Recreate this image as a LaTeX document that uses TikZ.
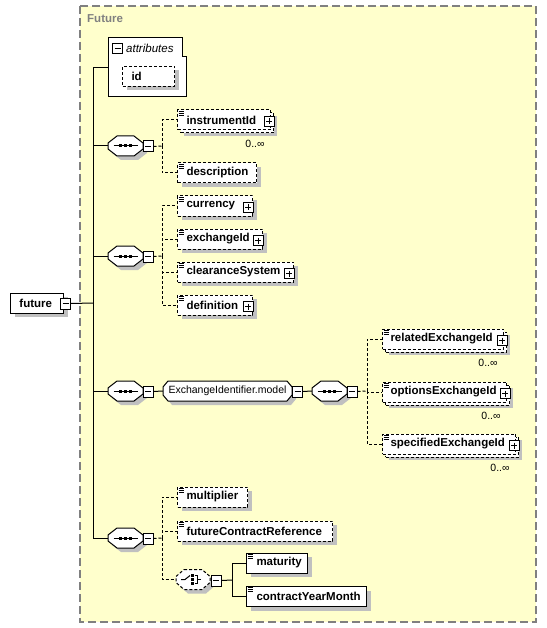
\documentclass[tikz,border=0pt]{standalone}
\usepackage{fontspec}
\setmainfont{Liberation Sans}
\usetikzlibrary{shadows,calc}
\definecolor{bgyellow}{RGB}{255,255,204}
\definecolor{shadowgray}{RGB}{192,192,192}
\definecolor{framegray}{RGB}{128,128,128}
\tikzset{
  dsh/.style={dash pattern=on 3pt off 2pt},
  conn/.style={line width=1pt, draw=black},
  oconn/.style={conn, dsh},
  shad/.style={drop shadow={shadow xshift=4pt,shadow yshift=-4pt,fill=shadowgray,opacity=1}},
  elembase/.style={font=\fontsize{11.5}{13}\selectfont\bfseries, fill=white, draw=black, line width=1pt,
     inner xsep=0pt, inner ysep=0pt, minimum height=20pt, anchor=west, align=left},
  elemopt/.style={elembase, dsh, shad},
  elemreq/.style={elembase, solid, shad},
  elemmulti/.style={elembase, dsh,
     drop shadow={shadow xshift=6pt,shadow yshift=-6pt,fill=shadowgray,opacity=1},
     copy shadow={shadow xshift=3pt,shadow yshift=-3pt,fill=white,draw=black,line width=1pt,dsh}},
  pbox/.style={draw=black, solid, fill=white, line width=1pt, minimum width=10pt, minimum height=10pt, inner sep=0pt,
     path picture={\draw[line width=1pt] ($(path picture bounding box.west)+(2,0)$) -- ($(path picture bounding box.east)+(-2,0)$)
        ($(path picture bounding box.north)+(0,2)$) -- ($(path picture bounding box.south)+(0,-2)$);}},
  mbox/.style={draw=black, solid, fill=white, line width=1pt, minimum width=10pt, minimum height=11pt, inner sep=0pt,
     path picture={\draw[line width=1pt] ($(path picture bounding box.west)+(2,0)$) -- ($(path picture bounding box.east)+(-2,0)$);}},
  compnode/.style={rectangle, minimum width=#1, minimum height=20pt, inner sep=0pt},
  occ/.style={font=\fontsize{10.5}{12}\selectfont, inner sep=0pt},
}
\newcommand\octp[5]{({#1+#4},{#2-10}) -- ({#1+#3-#4},{#2-10}) -- ({#1+#3},{#2-10+#5}) -- ({#1+#3},{#2+10-#5}) -- ({#1+#3-#4},{#2+10}) -- ({#1+#4},{#2+10}) -- (#1,{#2+10-#5}) -- (#1,{#2-10+#5}) -- cycle}
\newcommand\octshape[6]{%
  \fill[shadowgray,shift={(4,4)}] \octp{#2}{#3}{#4}{#5}{#6};
  \draw[conn,fill=white,#1] \octp{#2}{#3}{#4}{#5}{#6};}
\newcommand\elicon[1]{\draw[line width=0.8pt,solid] ($(#1.north west)+(1.5,1.5)$) -- +(5,0) ($(#1.north west)+(1.5,3.5)$) -- +(5,0) ($(#1.north west)+(1.5,5.5)$) -- +(5,0);}
\newcommand\seqsym[1]{\draw[line width=1pt] ($(#1.center)+(-12,0)$) -- ($(#1.center)+(12,0)$);
  \foreach \dd in {-5,0,5}{\fill ($(#1.center)+({\dd-1.5},-1.5)$) rectangle +(3,3);}}
\begin{document}
\begin{tikzpicture}[x=1pt,y=-1pt]
\useasboundingbox (0,0) rectangle (546,628);
% frame
\fill[bgyellow] (80,6) rectangle (536,622);
\draw[framegray,line width=1.2pt,dash pattern=on 8pt off 4pt] (80,6) rectangle (536,622);
\node[anchor=west,inner sep=0pt,text=framegray,font=\fontsize{11.5}{13}\selectfont\bfseries] (title) at (87,19) {Future};

% junctions
\coordinate (t0) at (93,303);
\coordinate (j1) at (162,146);
\coordinate (j2) at (162,256);
\coordinate (j3) at (367,391);
\coordinate (j4) at (162,538);
\coordinate (jc) at (232,580);

% attributes
\node[rectangle,minimum width=78pt,minimum height=59pt,inner sep=0pt] (attr) at (147,67.5) {};
\draw[conn,fill=white] (108,38) -- (182,38) -- (182,57) -- (186,57) -- (186,97) -- (108,97) -- cycle;
\node[mbox,minimum height=10pt] (attrm) at (117.5,49) {};
\node[anchor=west,inner sep=0pt,font=\fontsize{11.5}{13}\selectfont\itshape] (attrlbl) at (126,48) {attributes};
\node[elemopt,text width=52pt] (id) at (122,76.5) {\hspace*{9pt}id};

% future root
\node[elemreq,text width=53pt] (future) at (10,303) {\hspace*{9pt}future};
\node[mbox] (futurem) at ($(future.east)+(1.5,0.5)$) {};

% trunk connectors
\draw[conn] (futurem.east) -- (t0);
\draw[conn] (attr.west) -| (t0);

% sequences
\foreach \nm/\yy in {s1/146,s2/256,s3/391,s4/538}{
  \octshape{}{108}{\yy}{35}{9}{7}
  \node[compnode=35pt] (\nm) at (125.5,\yy) {};
  \seqsym{\nm}
  \node[mbox] (\nm m) at (148,\yy+0.5) {};
  \draw[conn] (\nm.west) -| (t0);
}

% sequence 1 children
\draw[oconn] (s1m.east) -- (j1);
\draw[oconn] (j1) |- (177,120);
\draw[oconn] (j1) |- (177,173);
\node[elemmulti,text width=93pt] (instr) at (177,120) {\hspace*{9pt}instrumentId};
\elicon{instr}
\node[pbox] (instrp) at ($(instr.east)+(-2,1.5)$) {};
\node[occ] (instrocc) at ($(instr.south east)+(-16,13)$) {0..∞};
\node[elemopt,text width=79pt] (descr) at (177,173) {\hspace*{9pt}description};
\elicon{descr}

% sequence 2 children
\draw[oconn] (s2m.east) -- (j2);
\foreach \nm/\yy/\ww/\tt in {curr/206/75/currency,exch/239/85/exchangeId,clear/272/116/clearanceSystem,defn/305/75/definition}{
  \draw[oconn] (j2) |- (177,\yy);
  \node[elemopt,text width=\ww pt] (\nm) at (177,\yy) {\hspace*{9pt}\tt};
  \elicon{\nm}
  \node[pbox] (\nm p) at ($(\nm.east)+(-5,1.5)$) {};
}

% sequence 3: group and nested sequence
\octshape{}{163}{391}{129}{5}{6}
\node[compnode=129pt,font=\fontsize{10.5}{12}\selectfont] (grp) at (227.5,391) {ExchangeIdentifier.model};
\node[mbox] (grpm) at (297.5,391.5) {};
\draw[conn] (s3m.east) -- (grp.west);
\octshape{}{312}{391}{35}{9}{7}
\node[compnode=35pt] (s5) at (329.5,391) {};
\seqsym{s5}
\node[mbox] (s5m) at (352,391.5) {};
\draw[conn] (grpm.east) -- (s5.west);
\draw[oconn] (s5m.east) -- (j3);
\foreach \nm/\yy/\ww/\tt in {rel/339/121/relatedExchangeId,opt/392/124/optionsExchangeId,spec/444/133/specifiedExchangeId}{
  \draw[oconn] (j3) |- (382,\yy);
  \node[elemmulti,text width=\ww pt] (\nm) at (382,\yy) {\hspace*{8pt}\tt};
  \elicon{\nm}
  \node[pbox] (\nm p) at ($(\nm.east)+(-2,1.5)$) {};
  \node[occ] (\nm occ) at ($(\nm.south east)+(-16,13)$) {0..∞};
}

% sequence 4 children
\draw[oconn] (s4m.east) -- (j4);
\draw[oconn] (j4) |- (177,497);
\draw[oconn] (j4) |- (176,579.5);
\draw[oconn] (j4) |- (177,531);
\node[elemopt,text width=70pt] (mult) at (177,497) {\hspace*{9pt}multiplier};
\elicon{mult}
\node[elemopt,text width=155pt] (fcr) at (177,531) {\hspace*{9pt}futureContractReference};
\elicon{fcr}
% choice
\octshape{dsh}{176}{579.5}{34}{8}{7}
\node[compnode=34pt] (ch) at (193,579.5) {};
\draw[line width=1pt] ($(ch.center)+(-12,0)$) -- ($(ch.center)+(-8,0)$) -- ($(ch.center)+(-3,-4)$);
\foreach \dd in {-4,0,4}{\fill ($(ch.center)+(-2,{\dd-1.5})$) rectangle +(3,3);}
\draw[line width=1pt] ($(ch.center)+(1.5,-4)$) -- ($(ch.center)+(4.5,-4)$) -- ($(ch.center)+(4.5,4)$) -- ($(ch.center)+(1.5,4)$)
   ($(ch.center)+(4.5,0)$) -- ($(ch.center)+(8,0)$);
\node[mbox] (chm) at (216,580.5) {};
\draw[conn] (chm.east) -- (jc);
\draw[conn] (jc) |- (246,563);
\draw[conn] (jc) |- (246,596.5);
\node[elemreq,text width=61pt] (mat) at (246,563) {\hspace*{10pt}maturity};
\elicon{mat}
\node[elemreq,text width=120pt] (cym) at (246,596.5) {\hspace*{10pt}contractYearMonth};
\elicon{cym}
\end{tikzpicture}
\end{document}
